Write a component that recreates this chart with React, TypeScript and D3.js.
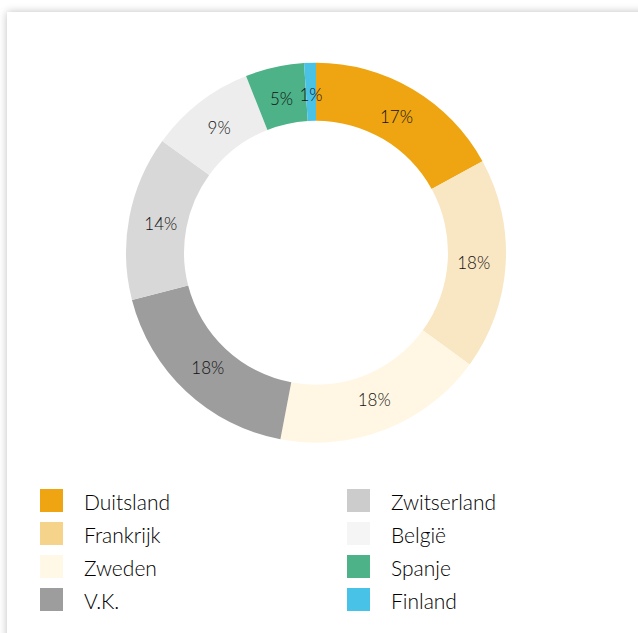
import React from "react";
import * as d3 from "d3";

const countries = ["Duitsland", "Frankrijk", "Zweden", "V.K.", "Zwitserland", "België", "Spanje", "Finland"];
const shares = [17, 18, 18, 18, 14, 9, 5, 1];
const sliceColors = ["#EEA511", "#F9E6C3", "#FFF7E3", "#9D9D9D", "#D8D8D8", "#EDEDED", "#4DB287", "#4AC2E6"];
const legendColors = ["#EEA511", "#F6D38A", "#FFF8E6", "#9D9D9D", "#CCCCCC", "#F5F5F5", "#4DB287", "#48C3E7"];

const W = 638;
const H = 633;
const cx = 316;
const cy = 252.7;
const outerR = 190;
const innerR = 132;

export default function App() {
  const data = countries.map((name, i) => ({ name, value: shares[i], i }));
  const pie = d3.pie<any>().sort(null).value((d: any) => d.value).startAngle(0).endAngle(2 * Math.PI);
  const arcs = pie(data);
  const arc = d3.arc<any>().innerRadius(innerR).outerRadius(outerR);
  const labelArc = d3.arc<any>().innerRadius(126).outerRadius(190);

  const rowY = d3.scaleLinear().domain([0, 1]).range([500.5, 533.5]);
  const colX = d3.scaleOrdinal<number, number>().domain([0, 1]).range([40, 347]);

  return (
    <div style={{ position: "fixed", left: 0, top: 0, width: W, height: H, background: "#fff" }}>
      <svg width={W} height={H} style={{ display: "block" }}>
        <defs>
          <filter id="shadow" x="-10%" y="-10%" width="120%" height="120%">
            <feGaussianBlur in="SourceAlpha" stdDeviation="4" />
            <feComponentTransfer>
              <feFuncA type="linear" slope="0.25" />
            </feComponentTransfer>
            <feMerge>
              <feMergeNode />
              <feMergeNode in="SourceGraphic" />
            </feMerge>
          </filter>
        </defs>
        <rect x={7} y={12} width={W + 40} height={H + 40} fill="#fff" filter="url(#shadow)" />
        <g transform={`translate(${cx},${cy})`}>
          {arcs.map((a: any) => (
            <path key={a.data.name} d={arc(a) as string} fill={sliceColors[a.data.i]} />
          ))}
          {arcs.map((a: any) => {
            const [x, y] = labelArc.centroid(a);
            return (
              <text
                key={"l" + a.data.name}
                x={x}
                y={y}
                textAnchor="middle"
                dominantBaseline="central"
                fontFamily="Lato, 'Noto Sans', sans-serif"
                fontWeight={300}
                fontSize={17}
                fill="#111"
              >
                {a.data.value}%
              </text>
            );
          })}
        </g>
        <g>
          {data.map((d) => {
            const col = Math.floor(d.i / 4);
            const row = d.i % 4;
            const x = colX(col);
            const y = rowY(row);
            return (
              <g key={"lg" + d.name}>
                <rect x={x} y={y - 11.5} width={23} height={23} fill={legendColors[d.i]} />
                <text
                  x={x + 44}
                  y={y + 0.5}
                  dominantBaseline="central"
                  fontFamily="Lato, 'Noto Sans', sans-serif"
                  fontWeight={300}
                  fontSize={21}
                  fill="#000"
                >
                  {d.name}
                </text>
              </g>
            );
          })}
        </g>
      </svg>
    </div>
  );
}
